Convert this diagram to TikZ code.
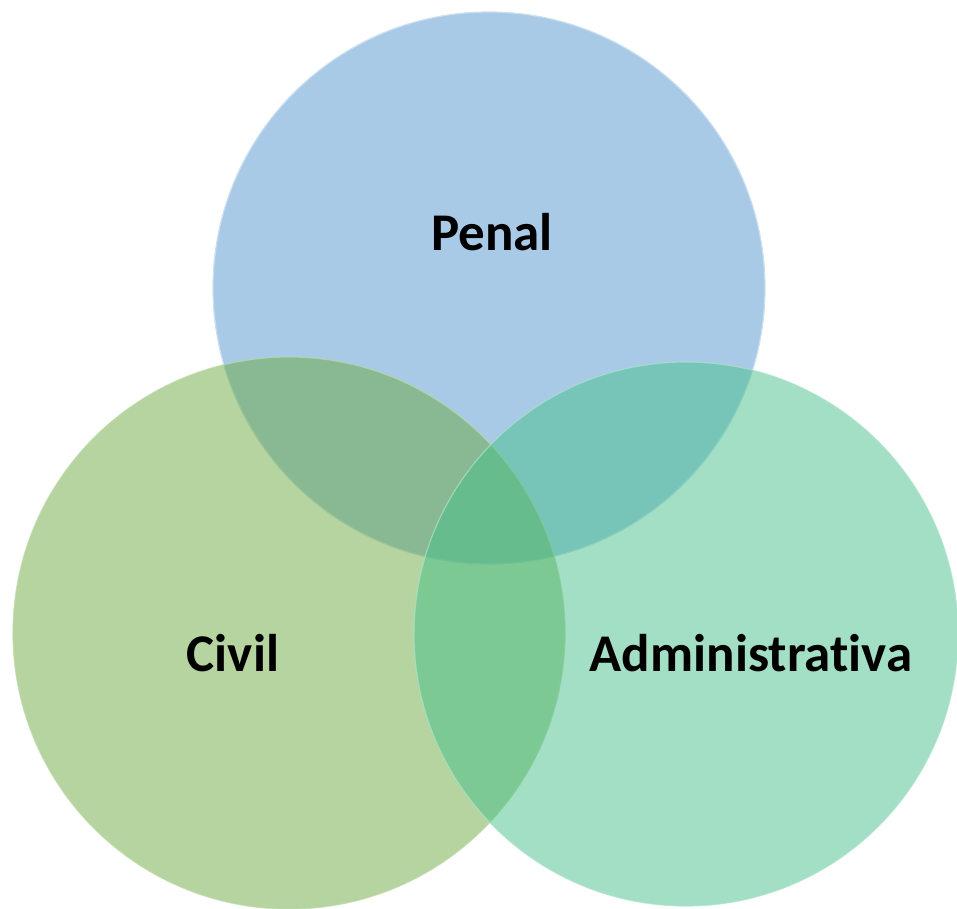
\documentclass[tikz,border=0pt]{standalone}
\usepackage{fontspec}
\setmainfont[Ligatures=NoCommon,RawFeature={-liga;-clig;-dlig}]{Carlito}
\usepackage{tikz}
\usetikzlibrary{positioning}
\definecolor{penalblue}{RGB}{169,202,231}
\definecolor{civilgreen}{RGB}{107,169,63}
\definecolor{admingreen}{RGB}{71,191,139}
\tikzset{set/.style = {shape=circle,inner sep=0pt,line width=1.2pt}}
\tikzset{setlabel/.style = {font=\fontsize{53}{63}\selectfont\bfseries,text=black}}

\begin{document}
\begin{tikzpicture}[x=1pt,y=-1pt]
            \useasboundingbox (0,0) rectangle (957,908);

            % Circles
            \node[set,minimum size=552pt,fill=penalblue,draw=penalblue!60!white] (penal) at (489,288) {};
            \node[set,minimum size=552pt,fill=civilgreen,fill opacity=0.5,draw=civilgreen!45!white,draw opacity=0.7] (civil) at (289,633) {};
            \node[set,minimum size=544pt,fill=admingreen,fill opacity=0.5,draw=admingreen!45!white,draw opacity=0.7] (admin) at (686,634) {};

            % Labels
            \node[setlabel] (lpenal) at (492,232) {Penal};
            \node[setlabel] (lcivil) at (233,653) {Civil};
            \node[setlabel] (ladmin) at (751,653) {Administrativa};

        \end{tikzpicture}
\end{document}
